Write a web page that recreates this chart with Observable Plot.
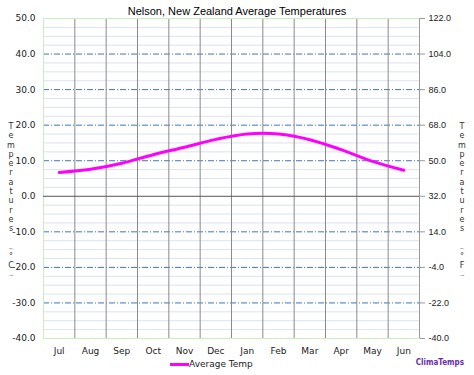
<!DOCTYPE html>
<html>
<head>
<meta charset="utf-8">
<script src="https://cdn.jsdelivr.net/npm/d3@7"></script>
<script src="https://cdn.jsdelivr.net/npm/@observablehq/plot@0.6"></script>
<style>
  body { margin: 0; background: #fff; }
  #wrap { position: relative; width: 474px; height: 375px; overflow: hidden; }
  #wrap svg { position: absolute; left: 0; top: 0; }
  .lbl { position: absolute; white-space: nowrap; }
  .vt { position: absolute; width: 12px; text-align: center; font: 8px "DejaVu Sans", sans-serif; color: #333; line-height: 9.3px; }
  .vt .p { font-size: 6px; line-height: 8px; display: inline-block; }
</style>
</head>
<body>
<div id="wrap"></div>
<script>
const title = "Nelson, New Zealand Average Temperatures";
const months = ["Jul","Aug","Sep","Oct","Nov","Dec","Jan","Feb","Mar","Apr","May","Jun"];
const avgTemp = [6.7, 7.6, 9.3, 11.7, 13.8, 16.0, 17.5, 17.5, 15.9, 13.1, 9.8, 7.3];
const cTicks = [50, 40, 30, 20, 10, 0, -10, -20, -30, -40];
const cTickLabels = ["50.0","40.0","30.0","20.0","10.0","0.0","-10.0","-20.0","-30.0","-40.0"];
const fTickLabels = ["122.0","104.0","86.0","68.0","50.0","32.0","14.0","-4.0","-22.0","-40.0"];
const minorTicks = d3.range(-40, 50.01, 2.5).filter(v => v % 10 !== 0);
const majorTicks = cTicks.filter(v => v !== 0 && v !== 50 && v !== -40);
const seriesName = "Average Temp";
const brand = "ClimaTemps";
const leftAxisTitle = ["T","e","m","p","e","r","a","t","u","r","e","s"," ","︵","°","C","︶"];
const rightAxisTitle = ["T","e","m","p","e","r","a","t","u","r","e","s"," ","︵","°","F","︶"];

const data = months.map((m, i) => ({i: i + 0.5, month: m, t: avgTemp[i]}));
const boundaries = d3.range(1, months.length);

const chart = Plot.plot({
  width: 474,
  height: 375,
  marginTop: 18,
  marginBottom: 37,
  marginLeft: 43,
  marginRight: 55,
  style: {background: "#fff", overflow: "visible"},
  x: {domain: [0, months.length]},
  y: {domain: [-40, 50]},
  marks: [
    Plot.ruleY(minorTicks, {stroke: "#dbe3ec", strokeWidth: 1}),
    Plot.ruleY(majorTicks, {stroke: "#3f74c2", strokeWidth: 1, strokeDasharray: "6,2,1,2"}),
    Plot.ruleX(boundaries, {stroke: "#8a8a8a", strokeWidth: 1}),
    Plot.frame({stroke: "#c9efbf"}),
    Plot.ruleY([0], {stroke: "#555", strokeWidth: 1}),
    Plot.ruleX([months.length], {stroke: "#999", strokeWidth: 1}),
    Plot.axisY({
      anchor: "left", ticks: cTicks, tickSize: 0, tickPadding: 8,
      tickFormat: (d) => cTickLabels[cTicks.indexOf(d)],
      fontSize: 9, fill: "#222", fontFamily: "DejaVu Sans", label: null
    }),
    Plot.axisY({
      anchor: "right", ticks: cTicks, tickSize: 5, tickPadding: 4, stroke: "#999",
      tickFormat: (d) => fTickLabels[cTicks.indexOf(d)],
      fontSize: 9, fill: "#222", fontFamily: "Liberation Sans", label: null
    }),
    Plot.axisX({
      ticks: months.map((m, i) => i + 0.5), tickSize: 0, tickPadding: 9,
      tickFormat: (d) => months[Math.floor(d)],
      fontSize: 9, fill: "#222", fontFamily: "DejaVu Sans", label: null
    }),
    Plot.line(data, {x: "i", y: "t", stroke: "#ff00ff", strokeWidth: 3, curve: "catmull-rom"})
  ]
});

const wrap = document.getElementById("wrap");
wrap.appendChild(chart);

function addLabel(text, css) {
  const d = document.createElement("div");
  d.className = "lbl";
  d.textContent = text;
  Object.assign(d.style, css);
  wrap.appendChild(d);
  return d;
}
addLabel(title, {left: "0", width: "474px", textAlign: "center", top: "5px", font: "11px 'Liberation Sans', Arial, sans-serif", color: "#000"});

// legend
const leg = document.createElement("div");
leg.className = "lbl";
Object.assign(leg.style, {left: "170px", top: "359px", font: "9px 'DejaVu Sans', sans-serif", color: "#222", display: "flex", alignItems: "center"});
const sw = document.createElement("span");
Object.assign(sw.style, {display: "inline-block", width: "19px", height: "3px", background: "#ff00ff"});
leg.appendChild(sw);
const lt = document.createElement("span");
lt.textContent = seriesName;
leg.appendChild(lt);
wrap.appendChild(leg);

addLabel(brand, {right: "10px", top: "358px", font: "bold 8px 'DejaVu Sans Condensed', 'DejaVu Sans', sans-serif", color: "#6a2fa6"});

function vertTitle(letters, left) {
  const d = document.createElement("div");
  d.className = "vt";
  d.style.left = left + "px";
  d.style.top = "122px";
  d.innerHTML = letters.map(c => c === " " ? "&nbsp;" : (c === "︵" || c === "︶") ? `<span class="p">${c}</span>` : c).join("<br>");
  wrap.appendChild(d);
}
vertTitle(leftAxisTitle, 5);
vertTitle(rightAxisTitle, 456);
</script>
</body>
</html>
